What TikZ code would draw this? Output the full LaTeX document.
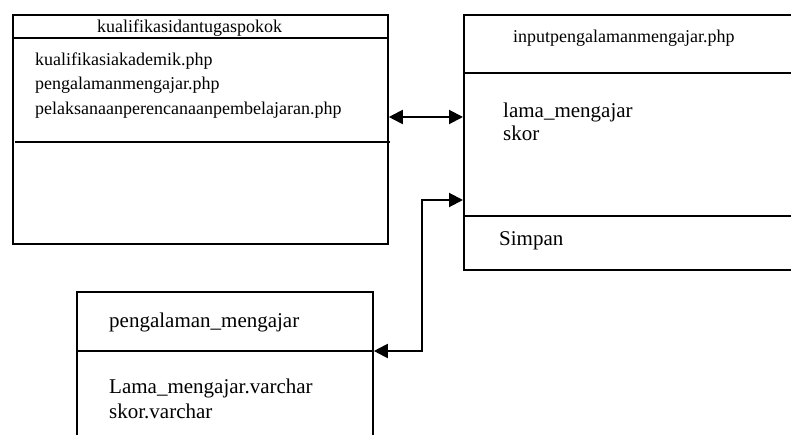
\documentclass[tikz,border=0pt]{standalone}
\usepackage{fontspec}
\setmainfont{Liberation Serif}
\usetikzlibrary{arrows.meta}
\begin{document}
\begin{tikzpicture}[x=1pt,y=-1pt,
 box/.style={draw, line width=1.8pt, inner sep=0pt, anchor=north west},
 sep/.style={line width=1.8pt},
 arr/.style={line width=2pt, {Triangle[length=14pt,width=14pt]}-{Triangle[length=14pt,width=14pt]}},
 small/.style={font=\fontsize{18}{24}\selectfont, anchor=base west, inner sep=0pt},
 big/.style={font=\fontsize{21}{24}\selectfont, anchor=base west, inner sep=0pt}]
\useasboundingbox (0,0) rectangle (791,435);
\fill[white] (0,0) rectangle (791,435);
\clip (0,0) rectangle (791,435);
% boxes
\node[box, minimum width=375pt, minimum height=229pt] (b1) at (12,14) {};
\node[box, minimum width=345pt, minimum height=255pt] (b2) at (463,14) {};
\node[box, minimum width=296pt, minimum height=170pt] (b3) at (76,291) {};
% compartments
\draw[sep] (b1.west |- 0,38) -- (b1.east |- 0,38);
\draw[line width=1.5pt] (15,142) -- (390,142);
\draw[sep] (b2.west |- 0,73) -- (b2.east |- 0,73);
\draw[sep] (b2.west |- 0,216) -- (b2.east |- 0,216);
\draw[sep] (b3.west |- 0,351) -- (b3.east |- 0,351);
% texts
\node[small] (t1) at (97,33) {kualifikasidantugaspokok};
\node[small] (t2) at (35,66) {kualifikasiakademik.php};
\node[small] (t3) at (35,90) {pengalamanmengajar.php};
\node[small] (t4) at (35,115) {pelaksanaanperencanaanpembelajaran.php};
\node[small] (t5) at (513,43) {inputpengalamanmengajar.php};
\node[big] (t6) at (503,118) {lama\_mengajar};
\node[big] (t7) at (503,141) {skor};
\node[big] (t8) at (499,246) {Simpan};
\node[big] (t9) at (109,327) {pengalaman\_mengajar};
\node[big] (t10) at (109,393) {Lama\_mengajar.varchar};
\node[big] (t11) at (109,418) {skor.varchar};
% connectors
\coordinate (ya) at (0,117);
\coordinate (k1) at (422,200);
\coordinate (k2) at (422,351);
\draw[arr] (b1.east |- ya) -- (b2.west |- ya);
\draw[arr] (b2.west |- k1) -- (k1) -- (k2) -- (b3.east |- k2);
\end{tikzpicture}
\end{document}
